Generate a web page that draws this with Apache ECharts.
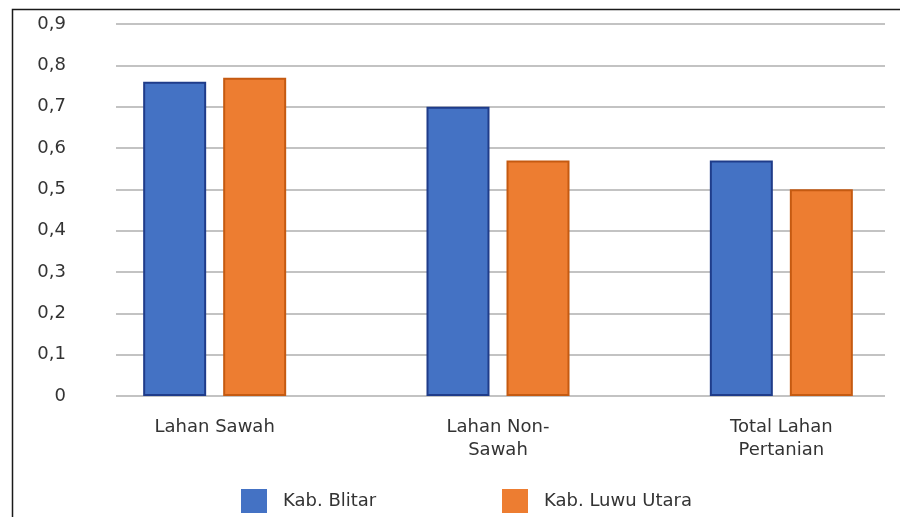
<!DOCTYPE html>
<html>
<head>
<meta charset="utf-8">
<script src="https://cdn.jsdelivr.net/npm/echarts@6/dist/echarts.min.js"></script>
<style>html,body{margin:0;padding:0;background:#fff}#c{width:900px;height:517px}</style>
</head>
<body>
<div id="c"></div>
<script>
const categories = ['Lahan Sawah', 'Lahan Non-\nSawah', 'Total Lahan\nPertanian'];
const seriesNames = ['Kab. Blitar', 'Kab. Luwu Utara'];
const blitar = [0.76, 0.70, 0.57];
const luwuUtara = [0.77, 0.57, 0.50];
const yMin = 0, yMax = 0.9, yStep = 0.1;

const font = '"DejaVu Sans", "Open Sans", sans-serif';
const txt = '#333333';
const chart = echarts.init(document.getElementById('c'));
chart.setOption({
  animation: false,
  textStyle: { fontFamily: font },
  graphic: [{
    type: 'rect', left: 10, top: 7, z: 100, silent: true,
    shape: { width: 900, height: 520 },
    style: { fill: 'none', stroke: '#1a1a1a', lineWidth: 1.5 }
  }],
  grid: [
    { left: 116, top: 24, width: 769, height: 372, outerBoundsMode: 'none' },
    { left: 73, top: 24, width: 850, height: 372, outerBoundsMode: 'none' }
  ],
  legend: [
    { left: 241, top: 489, padding: 0, itemWidth: 26, itemHeight: 24, icon: 'rect', data: [seriesNames[0]],
      itemStyle: { borderWidth: 0 },
      textStyle: { fontSize: 18, color: txt, fontFamily: font, padding: [0, 0, 0, 11] } },
    { left: 502, top: 489, padding: 0, itemWidth: 26, itemHeight: 24, icon: 'rect', data: [seriesNames[1]],
      itemStyle: { borderWidth: 0 },
      textStyle: { fontSize: 18, color: txt, fontFamily: font, padding: [0, 0, 0, 11] } }
  ],
  xAxis: [
    { type: 'category', gridIndex: 0, data: categories, show: false },
    { type: 'category', gridIndex: 1, data: categories,
      axisLine: { show: false }, axisTick: { show: false },
      axisLabel: { interval: 0, fontSize: 18, color: txt, lineHeight: 23, margin: 20, fontFamily: font } }
  ],
  yAxis: [
    { type: 'value', gridIndex: 0, min: yMin, max: yMax, interval: yStep,
      axisLine: { show: false }, axisTick: { show: false },
      splitLine: { lineStyle: { color: '#c3c3c3', width: 2 } },
      axisLabel: { fontSize: 18, color: txt, margin: 50, fontFamily: font,
        formatter: v => (Math.round(v * 10) / 10).toString().replace('.', ',') } },
    { type: 'value', gridIndex: 1, min: yMin, max: yMax, interval: yStep, show: false,
      splitLine: { show: false } }
  ],
  series: [
    { name: seriesNames[0], type: 'bar', xAxisIndex: 1, yAxisIndex: 1, data: blitar,
      barWidth: 63, barGap: '27%',
      itemStyle: { color: '#4472C4', borderColor: '#1F3C8A', borderWidth: 2 } },
    { name: seriesNames[1], type: 'bar', xAxisIndex: 1, yAxisIndex: 1, data: luwuUtara,
      barWidth: 63, barGap: '27%',
      itemStyle: { color: '#ED7D31', borderColor: '#C55A11', borderWidth: 2 } }
  ]
});
</script>
</body>
</html>
